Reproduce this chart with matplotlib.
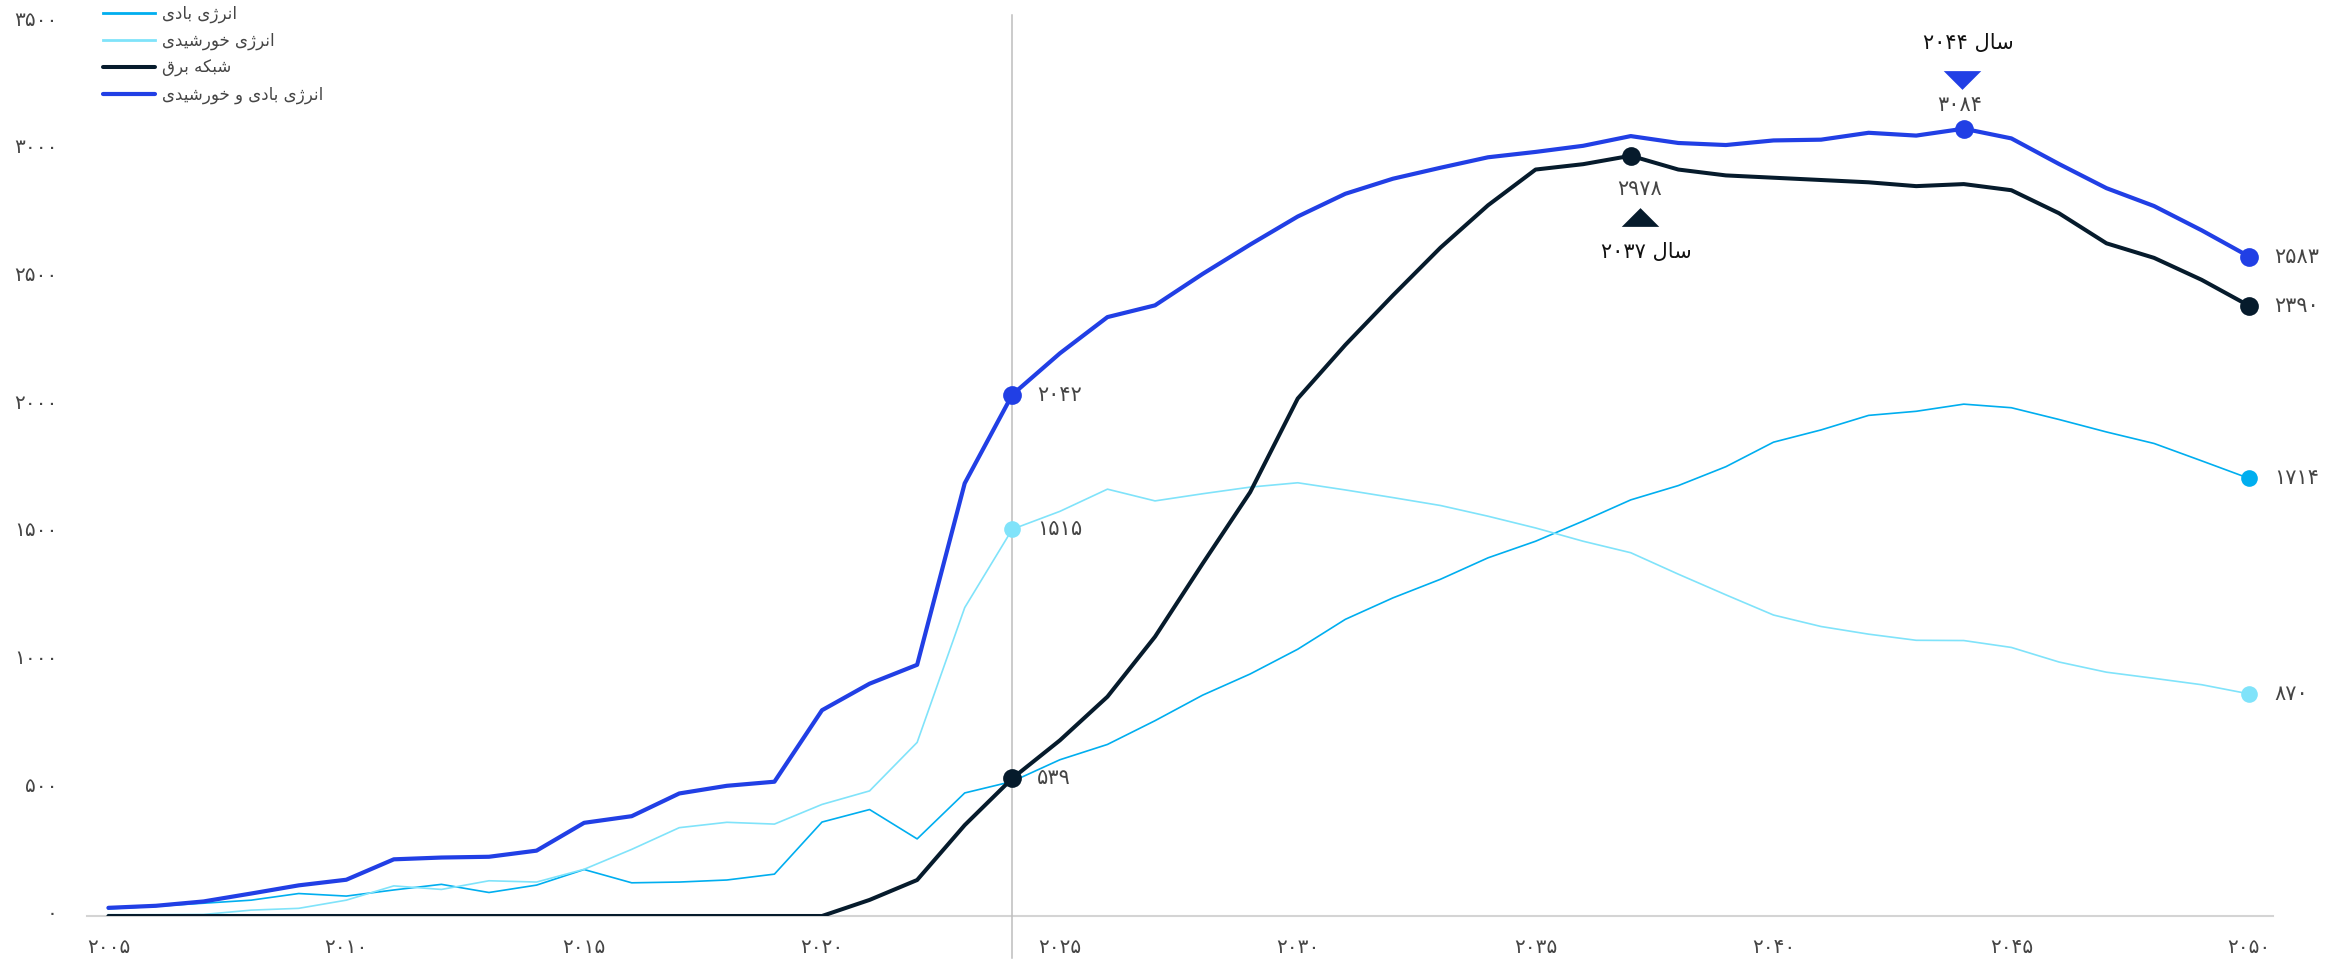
import matplotlib
matplotlib.use("Agg")
import matplotlib.pyplot as plt
from matplotlib import transforms
from matplotlib.path import Path

# ---------------------------------------------------------------- data
years = list(range(2005, 2051))

wind = [28, 38, 50, 62, 88, 78, 102, 124, 92, 121,
        182, 130, 133, 141, 164, 368, 417, 302, 482, 527,
        612, 672, 765, 865, 948, 1045, 1162, 1246, 1319, 1403,
        1468, 1547, 1630, 1686, 1760, 1856, 1904, 1961, 1977, 2005,
        1991, 1945, 1896, 1851, 1783, 1714]

solar = [5, 5, 6, 23, 30, 62, 118, 104, 138, 133,
         183, 261, 346, 367, 360, 437, 490, 680, 1208, 1515,
         1585, 1672, 1626, 1654, 1680, 1697, 1669, 1639, 1608, 1566,
         1520, 1468, 1423, 1339, 1258, 1179, 1134, 1104, 1080, 1079,
         1052, 995, 955, 931, 906, 870]

grid = [0, 0, 0, 0, 0, 0, 0, 0, 0, 0,
        0, 0, 0, 0, 0, 0, 63, 141, 356, 539,
        688, 859, 1094, 1380, 1660, 2027, 2237, 2431, 2618, 2784,
        2924, 2945, 2978, 2924, 2901, 2892, 2883, 2874, 2859, 2867,
        2843, 2753, 2635, 2578, 2492, 2390]

wind_solar = [32, 40, 57, 88, 120, 142, 222, 229, 232, 256,
              365, 391, 480, 510, 526, 806, 910, 984, 1695, 2042,
              2204, 2346, 2392, 2515, 2630, 2740, 2829, 2888, 2931, 2972,
              2993, 3017, 3055, 3028, 3020, 3038, 3041, 3068, 3057, 3084,
              3046, 2946, 2851, 2781, 2686, 2583]

series_labels = ["انرژی بادی", "انرژی خورشیدی", "شبکه برق", "انرژی بادی و خورشیدی"]
y_ticks = [0, 500, 1000, 1500, 2000, 2500, 3000, 3500]
x_ticks = [2005, 2010, 2015, 2020, 2025, 2030, 2035, 2040, 2045, 2050]
marker_year = 2024
grid_peak_year = 2037
combined_peak_year = 2044
year_word = "سال"

# ---------------------------------------------------------------- colours
C_WIND = "#00aeef"
C_SOLAR = "#80e3fa"
C_GRID = "#061b2c"
C_COMB = "#213fe5"
C_TEXT = "#454545"

# ---------------------------------------------------------------- Persian text helpers
# (isolated, final, initial, medial); None -> letter does not join to the next one
FORMS = {
    "ا": ("\uFE8D", "\uFE8E", None, None),
    "ب": ("\uFE8F", "\uFE90", "\uFE91", "\uFE92"),
    "خ": ("\uFEA5", "\uFEA6", "\uFEA7", "\uFEA8"),
    "د": ("\uFEA9", "\uFEAA", None, None),
    "ر": ("\uFEAD", "\uFEAE", None, None),
    "ژ": ("\uFB8A", "\uFB8B", None, None),
    "س": ("\uFEB1", "\uFEB2", "\uFEB3", "\uFEB4"),
    "ش": ("\uFEB5", "\uFEB6", "\uFEB7", "\uFEB8"),
    "ق": ("\uFED5", "\uFED6", "\uFED7", "\uFED8"),
    "ک": ("\uFB8E", "\uFB8F", "\uFB90", "\uFB91"),
    "ل": ("\uFEDD", "\uFEDE", "\uFEDF", "\uFEE0"),
    "ن": ("\uFEE5", "\uFEE6", "\uFEE7", "\uFEE8"),
    "ه": ("\uFEE9", "\uFEEA", "\uFEEB", "\uFEEC"),
    "و": ("\uFEED", "\uFEEE", None, None),
    "ی": ("\uFBFC", "\uFBFD", "\uFBFE", "\uFBFF"),
}
FA_DIGITS = str.maketrans("0123456789", "۰۱۲۳۴۵۶۷۸۹")


def fa_num(v):
    return str(v).translate(FA_DIGITS)


def fa(text):
    """Contextual letter forms plus right-to-left visual ordering."""
    chars = list(text)
    shaped = []
    for i, c in enumerate(chars):
        if c not in FORMS:
            shaped.append(c)
            continue
        prev = chars[i - 1] if i > 0 else None
        nxt = chars[i + 1] if i + 1 < len(chars) else None
        iso, fin, ini, med = FORMS[c]
        jp = prev in FORMS and FORMS[prev][2] is not None
        jn = nxt in FORMS and ini is not None
        if jp and jn:
            shaped.append(med)
        elif jp:
            shaped.append(fin)
        elif jn:
            shaped.append(ini)
        else:
            shaped.append(iso)
    # split into digit runs (left-to-right) and letter runs
    runs, cur, cur_digit = [], "", None
    for c in shaped:
        d = c in "۰۱۲۳۴۵۶۷۸۹0123456789"
        if cur and d != cur_digit:
            runs.append((cur, cur_digit))
            cur = ""
        cur += c
        cur_digit = d
    if cur:
        runs.append((cur, cur_digit))
    return "".join(r if d else r[::-1] for r, d in reversed(runs))


FONT = ["DejaVu Sans"]
plt.rcParams["font.family"] = FONT

# ---------------------------------------------------------------- figure
fig = plt.figure(figsize=(23.48, 9.63), dpi=100)
ax = fig.add_axes([0.03705, 0.04881, 0.93100, 0.92783])
ax.set_xlim(2004.55, 2050.5)
ax.set_ylim(0, 3500)

ax.axvline(marker_year, ymin=-0.047, ymax=1.008, color="#bdbdbd", lw=1.1,
           zorder=1, clip_on=False)

l_wind, = ax.plot(years, wind, color=C_WIND, lw=1.2, zorder=3)
l_solar, = ax.plot(years, solar, color=C_SOLAR, lw=1.2, zorder=3)
l_grid, = ax.plot(years, grid, color=C_GRID, lw=2.9, zorder=4,
                  solid_capstyle="round", solid_joinstyle="round")
l_comb, = ax.plot(years, wind_solar, color=C_COMB, lw=3.0, zorder=5,
                  solid_capstyle="round", solid_joinstyle="round")

# axes styling
for s in ["top", "right", "left"]:
    ax.spines[s].set_visible(False)
ax.spines["bottom"].set_color("#d4d4d4")
ax.spines["bottom"].set_linewidth(1.5)
ax.spines["bottom"].set_zorder(0)
ax.set_yticks(y_ticks)
ax.set_yticklabels([fa_num(v) for v in y_ticks])
ax.set_xticks(x_ticks)
ax.set_xticklabels([fa_num(v) for v in x_ticks])
ax.tick_params(axis="y", length=0, pad=21, labelsize=14.5, labelcolor=C_TEXT)
ax.tick_params(axis="x", length=0, pad=16, labelsize=14.5, labelcolor=C_TEXT)
lift = transforms.ScaledTranslation(0, 3 / 72, fig.dpi_scale_trans)
for lab in ax.get_yticklabels():
    lab.set_transform(lab.get_transform() + lift)

# ---------------------------------------------------------------- point markers and value labels
i_m = years.index(marker_year)
i_end = len(years) - 1


def dot(i, values, color, size):
    ax.plot([years[i]], [values[i]], "o", color=color, ms=size,
            markeredgewidth=0, zorder=6)


def value_label(i, values, dx=18, dy=0, ha="left"):
    ax.annotate(fa_num(values[i]), (years[i], values[i]), xytext=(dx, dy),
                textcoords="offset points", ha=ha, va="center",
                fontsize=15, color=C_TEXT, zorder=7)


for vals, col, sz in [(wind_solar, C_COMB, 13.5), (solar, C_SOLAR, 12), (grid, C_GRID, 13.5)]:
    dot(i_m, vals, col, sz)
    value_label(i_m, vals)

for vals, col, sz in [(wind_solar, C_COMB, 13.5), (grid, C_GRID, 13.5),
                      (wind, C_WIND, 12), (solar, C_SOLAR, 12)]:
    dot(i_end, vals, col, sz)
    value_label(i_end, vals)

# peak callouts
tri_up = Path([(-1, -0.5), (1, -0.5), (0, 0.5), (-1, -0.5)],
              [Path.MOVETO, Path.LINETO, Path.LINETO, Path.CLOSEPOLY])
tri_down = Path([(-1, 0.5), (1, 0.5), (0, -0.5), (-1, 0.5)],
                [Path.MOVETO, Path.LINETO, Path.LINETO, Path.CLOSEPOLY])


def callout(year, values, color, marker, d_val, d_tri, d_txt):
    i = years.index(year)
    x, y = years[i], values[i]
    dot(i, values, color, 13.5)
    ax.annotate(fa_num(values[i]), (x, y), xytext=d_val, textcoords="offset points",
                ha="center", va="center", fontsize=15, color=C_TEXT, zorder=7)
    tr = transforms.offset_copy(ax.transData, fig=fig, x=d_tri[0], y=d_tri[1],
                                units="points")
    ax.plot([x], [y], marker=marker, color=color, ms=27, markeredgewidth=0,
            transform=tr, zorder=7, clip_on=False)
    ax.annotate(fa(year_word + " " + fa_num(year)), (x, y), xytext=d_txt,
                textcoords="offset points", ha="center", va="center",
                fontsize=15, color="#111111", zorder=7)


callout(grid_peak_year, grid, C_GRID, tri_up, (6.5, -24), (6.5, -44), (11, -69))
callout(combined_peak_year, wind_solar, C_COMB, tri_down, (-3, 17), (-1.5, 35), (3, 62))

# ---------------------------------------------------------------- legend
leg = ax.legend([l_wind, l_solar, l_grid, l_comb], [fa(t) for t in series_labels],
                loc="upper left", bbox_to_anchor=(103 / 2348, 1 - 5 / 963),
                bbox_transform=fig.transFigure, frameon=False, fontsize=12,
                handlelength=3.1, handletextpad=0.42, labelspacing=0.52,
                borderpad=0, borderaxespad=0)
for t in leg.get_texts():
    t.set_color(C_TEXT)
for h in leg.legend_handles:
    if h.get_linewidth() < 2:
        h.set_linewidth(2)

fig.savefig("out.png", dpi=100, facecolor="white")
